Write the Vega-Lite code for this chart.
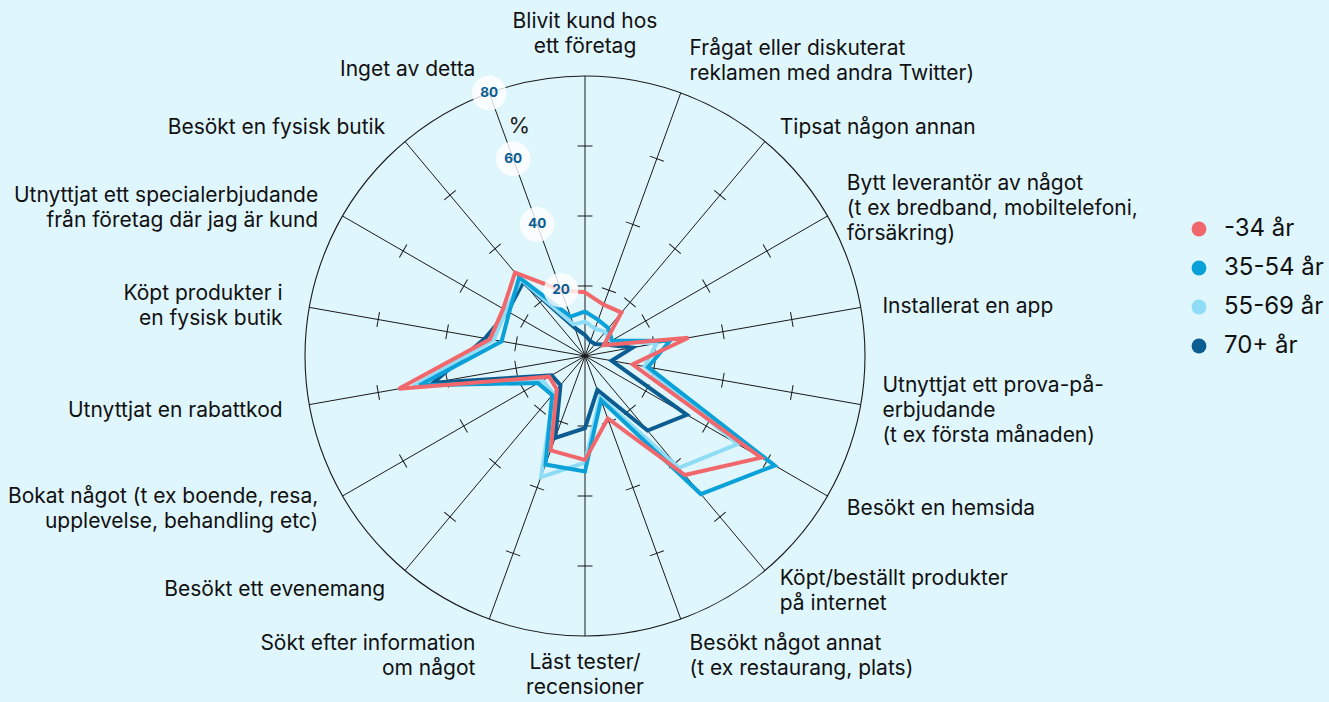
{
  "$schema": "https://vega.github.io/schema/vega-lite/v6.json",
  "width": 1329,
  "height": 702,
  "padding": 0,
  "autosize": {"type": "none"},
  "background": "#e0f6fd",
  "config": {"view": {"stroke": null}, "font": "Inter"},
  "datasets": {
    "axes": [
      {"i": 0, "label": "Blivit kund hos\nett företag", "ticks": [20, 40, 60]},
      {"i": 1, "label": "Frågat eller diskuterat\nreklamen med andra  Twitter)", "ticks": [20, 40, 60]},
      {"i": 2, "label": "Tipsat någon annan", "ticks": [20, 40, 60]},
      {"i": 3, "label": "Bytt leverantör av något\n(t ex bredband, mobiltelefoni,\nförsäkring)", "ticks": [20, 40, 60]},
      {"i": 4, "label": "Installerat en app", "ticks": [20, 40, 60]},
      {"i": 5, "label": "Utnyttjat ett prova-på-\nerbjudande\n(t ex första månaden)", "ticks": [20, 40, 60]},
      {"i": 6, "label": "Besökt en hemsida", "ticks": [20, 40, 60]},
      {"i": 7, "label": "Köpt/beställt produkter\npå internet", "ticks": [20, 40, 60]},
      {"i": 8, "label": "Besökt något annat\n(t ex restaurang, plats)", "ticks": [20, 40, 60]},
      {"i": 9, "label": "Läst tester/\nrecensioner", "ticks": [20, 40, 60]},
      {"i": 10, "label": "Sökt efter information\nom något", "ticks": [20, 40, 60]},
      {"i": 11, "label": "Besökt ett evenemang", "ticks": [20, 40, 60]},
      {"i": 12, "label": "Bokat något (t ex boende, resa,\nupplevelse, behandling etc)", "ticks": [20, 40, 60]},
      {"i": 13, "label": "Utnyttjat en rabattkod", "ticks": [20, 40, 60]},
      {"i": 14, "label": "Köpt produkter i\nen fysisk butik", "ticks": [20, 40, 60]},
      {"i": 15, "label": "Utnyttjat ett specialerbjudande\nfrån företag där jag är kund", "ticks": [20, 40, 60]},
      {"i": 16, "label": "Besökt en fysisk butik", "ticks": [20, 40, 60]},
      {"i": 17, "label": "Inget av detta", "ticks": [20, 40, 60]}
    ],
    "values": [
      {"i": 0, "-34 år": 18.2, "35-54 år": 12.7, "55-69 år": 9.8, "70+ år": 6},
      {"i": 1, "-34 år": 15.6, "35-54 år": 11, "55-69 år": 8.3, "70+ år": 4.5},
      {"i": 2, "-34 år": 16.2, "35-54 år": 10.4, "55-69 år": 9, "70+ år": 4.5},
      {"i": 3, "-34 år": 6.2, "35-54 år": 8.9, "55-69 år": 8.5, "70+ år": 6.5},
      {"i": 4, "-34 år": 30, "35-54 år": 24.6, "55-69 år": 20.8, "70+ år": 13.8},
      {"i": 5, "-34 år": 13.8, "35-54 år": 18.3, "55-69 år": 17.3, "70+ år": 7.7},
      {"i": 6, "-34 år": 58.1, "35-54 år": 62.6, "55-69 år": 50.3, "70+ år": 33.6},
      {"i": 7, "-34 år": 44.4, "35-54 år": 51.5, "55-69 år": 41.7, "70+ år": 27.8},
      {"i": 8, "-34 år": 19, "35-54 år": 13.4, "55-69 år": 12.5, "70+ år": 10.3},
      {"i": 9, "-34 år": 29.7, "35-54 år": 33, "55-69 år": 30.5, "70+ år": 20.6},
      {"i": 10, "-34 år": 28.7, "35-54 år": 33, "55-69 år": 36.8, "70+ år": 24.9},
      {"i": 11, "-34 år": 12.5, "35-54 år": 14.6, "55-69 år": 14, "70+ år": 10.9},
      {"i": 12, "-34 år": 11.8, "35-54 år": 15.5, "55-69 år": 14, "70+ år": 11},
      {"i": 13, "-34 år": 54, "35-54 år": 48, "55-69 år": 50, "70+ år": 44},
      {"i": 14, "-34 år": 27.6, "35-54 år": 24.2, "55-69 år": 26.5, "70+ år": 29},
      {"i": 15, "-34 år": 27, "35-54 år": 25, "55-69 år": 26, "70+ år": 25.5},
      {"i": 16, "-34 år": 31.1, "35-54 år": 29.3, "55-69 år": 28.5, "70+ år": 27.5},
      {"i": 17, "-34 år": 20, "35-54 år": 12, "55-69 år": 9.6, "70+ år": 8.6}
    ],
    "scaleLabels": [{"v": 20}, {"v": 40}, {"v": 60}, {"v": 80}]
  },
  "encoding": {
    "x": {"field": "x", "type": "quantitative", "scale": {"domain": [-167.142857, 212.571429], "nice": false, "zero": false}, "axis": null},
    "y": {"field": "y", "type": "quantitative", "scale": {"domain": [-98.857143, 101.714286], "nice": false, "zero": false}, "axis": null}
  },
  "layer": [
    {
      "data": {"values": [{"c": 1}]},
      "transform": [
        {"calculate": "0", "as": "x"},
        {"calculate": "0", "as": "y"}
      ],
      "mark": {"type": "point", "shape": "circle", "size": 313600, "filled": false, "stroke": "#1a1a1a", "strokeWidth": 1.1, "opacity": 1}
    },
    {
      "data": {"name": "axes"},
      "transform": [
        {"calculate": "datum.i*20", "as": "a"},
        {"calculate": "0", "as": "x"},
        {"calculate": "0", "as": "y"},
        {"calculate": "80*sin(datum.a*PI/180)", "as": "ex"},
        {"calculate": "80*cos(datum.a*PI/180)", "as": "ey"}
      ],
      "mark": {"type": "rule", "color": "#1a1a1a", "strokeWidth": 1},
      "encoding": {
        "x2": {"field": "ex"},
        "y2": {"field": "ey"}
      }
    },
    {
      "data": {"name": "axes"},
      "transform": [
        {"flatten": ["ticks"]},
        {"calculate": "datum.i*20", "as": "a"},
        {"calculate": "datum.ticks*sin(datum.a*PI/180)", "as": "x"},
        {"calculate": "datum.ticks*cos(datum.a*PI/180)", "as": "y"}
      ],
      "mark": {"type": "point", "shape": "stroke", "size": 225, "filled": false, "stroke": "#1a1a1a", "strokeWidth": 1, "opacity": 1},
      "encoding": {"angle": {"field": "a", "type": "quantitative", "scale": null}}
    },
    {
      "data": {"name": "values"},
      "transform": [
        {"fold": ["70+ år", "55-69 år", "35-54 år", "-34 år"], "as": ["grupp", "v"]},
        {"calculate": "datum.i*20", "as": "a"},
        {"calculate": "datum.v*sin(datum.a*PI/180)", "as": "x"},
        {"calculate": "datum.v*cos(datum.a*PI/180)", "as": "y"}
      ],
      "mark": {"type": "line", "interpolate": "linear-closed", "strokeWidth": 4, "strokeJoin": "miter"},
      "encoding": {
        "color": {
          "field": "grupp", "type": "nominal",
          "scale": {"domain": ["-34 år", "35-54 år", "55-69 år", "70+ år"], "range": ["#f0686b", "#0aa0d8", "#8fdcf6", "#0b5c91"]},
          "legend": {
            "orient": "none", "legendX": 1187, "legendY": 217, "title": null,
            "symbolType": "circle", "symbolSize": 220, "symbolStrokeWidth": 0,
            "labelFontSize": 24, "labelFont": "Inter", "labelColor": "#111", "labelOffset": 13, "rowPadding": 15,
            "encode": {"symbols": {"update": {"fill": {"scale": "color", "field": "value"}, "fillOpacity": {"value": 1}, "strokeWidth": {"value": 0}}}}
          }
        },
        "order": {"field": "i", "type": "quantitative"}
      }
    },
    {
      "data": {"name": "axes"},
      "transform": [
        {"calculate": "datum.i*20", "as": "a"},
        {"calculate": "85.7*sin(datum.a*PI/180)", "as": "x"},
        {"calculate": "85.7*cos(datum.a*PI/180)", "as": "y"}
      ],
      "mark": {
        "type": "text", "lineBreak": "\n", "fontSize": 21, "font": "Inter", "color": "#111", "lineHeight": 25, "baseline": "middle",
        "align": {"expr": "(datum.a==0||datum.a==180)?'center':(datum.a<180?'left':'right')"},
        "dx": {"expr": "datum.a>180?-7:(datum.a>0&&datum.a<180?2:0)"},
        "dy": {"expr": "-(length(split(datum.label,'\\n'))-1)*12.5 - 12.5*length(split(datum.label,'\\n'))*(cos(datum.a*PI/180)>=0?1:-1)*pow(abs(cos(datum.a*PI/180)),8) + (datum.a==180?-5:3)"}
      },
      "encoding": {"text": {"field": "label"}}
    },
    {
      "data": {"name": "scaleLabels"},
      "transform": [
        {"calculate": "datum.v*sin(340*PI/180)", "as": "x"},
        {"calculate": "datum.v*cos(340*PI/180)", "as": "y"}
      ],
      "mark": {"type": "point", "shape": "circle", "size": 1200, "filled": true, "color": "#ffffff", "opacity": 0.8, "strokeWidth": 0}
    },
    {
      "data": {"name": "scaleLabels"},
      "transform": [
        {"calculate": "datum.v*sin(340*PI/180)", "as": "x"},
        {"calculate": "datum.v*cos(340*PI/180)", "as": "y"}
      ],
      "mark": {"type": "text", "fontSize": 13.5, "fontWeight": "bold", "font": "Inter", "color": "#0b5c91", "align": "center", "baseline": "middle"},
      "encoding": {"text": {"field": "v", "type": "quantitative"}}
    },
    {
      "data": {"values": [{"v": 70, "t": "%"}]},
      "transform": [
        {"calculate": "datum.v*sin(340*PI/180)", "as": "x"},
        {"calculate": "datum.v*cos(340*PI/180)", "as": "y"}
      ],
      "mark": {"type": "text", "fontSize": 22, "font": "Inter", "color": "#222", "align": "center", "baseline": "middle", "dx": 18},
      "encoding": {"text": {"field": "t"}}
    }
  ]
}
